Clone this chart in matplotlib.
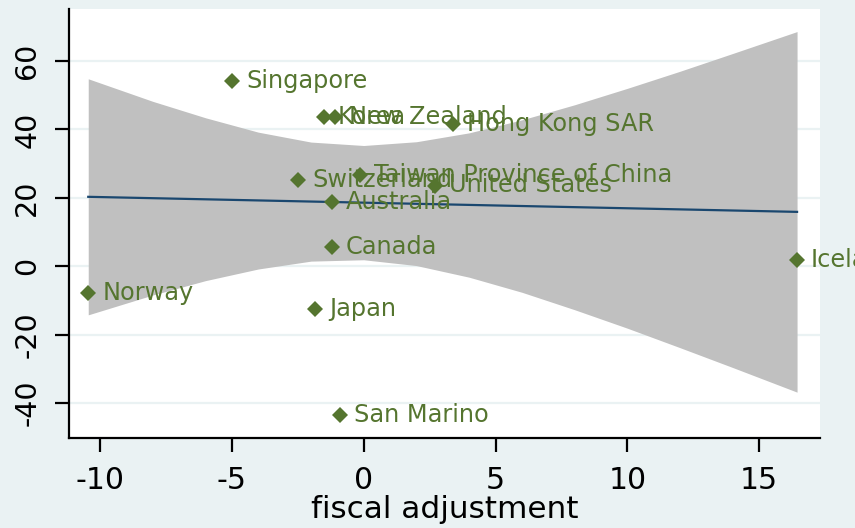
import matplotlib
matplotlib.use("Agg")
import matplotlib.pyplot as plt

# Country observations: fiscal adjustment (x) vs outcome (y)
countries = ["Singapore", "Korea", "New Zealand", "Hong Kong SAR",
             "Taiwan Province of China", "Switzerland", "United States",
             "Australia", "Canada", "Iceland", "Norway", "Japan", "San Marino"]
fiscal_adj = [-4.99, -1.50, -1.08, 3.39, -0.14, -2.49, 2.71,
              -1.20, -1.20, 16.44, -10.45, -1.84, -0.90]
outcome = [54.2, 43.6, 43.6, 41.6, 26.7, 25.2, 23.6,
           18.8, 5.6, 1.8, -7.8, -12.6, -43.5]

# Linear fit with 95% confidence band
fit_x = [-10.45, 16.44]
fit_y = [20.3, 15.9]
band_x = [-10.45, -8, -6, -4, -2, 0, 2, 4, 6, 8, 10, 12, 14, 16.44]
band_hi = [54.8, 48.2, 43.4, 39.2, 36.3, 35.3, 36.4, 39.0, 42.8, 47.2,
           52.0, 57.0, 62.2, 68.6]
band_lo = [-14.2, -8.4, -4.2, -0.8, 1.5, 1.9, 0.2, -3.2, -7.6, -12.7,
           -18.1, -23.8, -29.6, -36.8]

x_ticks = [-10, -5, 0, 5, 10, 15]
y_ticks = [-40, -20, 0, 20, 40, 60]

BG = "#EAF2F3"
GREEN = "#55752F"
NAVY = "#1A476F"

plt.rcParams["font.family"] = ["DejaVu Sans"]

fig = plt.figure(figsize=(8.55, 5.28), dpi=100, facecolor=BG)
ax = fig.add_axes([69 / 855, 1 - 438 / 528, (820 - 69) / 855, (438 - 9) / 528])
ax.set_facecolor("white")

ax.set_xlim(-11.18, 17.31)
ax.set_ylim(-50.2, 75.2)

for yv in y_ticks:
    ax.axhline(yv, color=BG, lw=1.6, zorder=0.5)

ax.fill_between(band_x, band_lo, band_hi, color="#C0C0C0", lw=0, zorder=1)
ax.plot(fit_x, fit_y, color=NAVY, lw=1.6, zorder=2)

ax.plot(fiscal_adj, outcome, linestyle="none", marker="D", markersize=8.5,
        color=GREEN, markeredgewidth=0, zorder=3)
for name, xv, yv in zip(countries, fiscal_adj, outcome):
    ax.annotate(name, (xv, yv), xytext=(10, -5), textcoords="offset points",
                ha="left", va="baseline", fontsize=17.3, color=GREEN,
                annotation_clip=False, zorder=4)

ax.set_xticks(x_ticks)
ax.set_yticks(y_ticks)
ax.set_xticklabels([str(v) for v in x_ticks])
ax.set_yticklabels([str(v) for v in y_ticks], rotation=90, va="center")
ax.tick_params(axis="both", length=10, width=1.6, color="black", pad=10)
ax.tick_params(axis="x", labelsize=21.5)
ax.tick_params(axis="y", labelsize=20.5)
ax.set_xlabel("fiscal adjustment", fontsize=22.4, labelpad=0)

for side in ("top", "right"):
    ax.spines[side].set_visible(False)
for side in ("left", "bottom"):
    ax.spines[side].set_linewidth(1.6)

fig.savefig("out.png", dpi=100, facecolor=BG)
